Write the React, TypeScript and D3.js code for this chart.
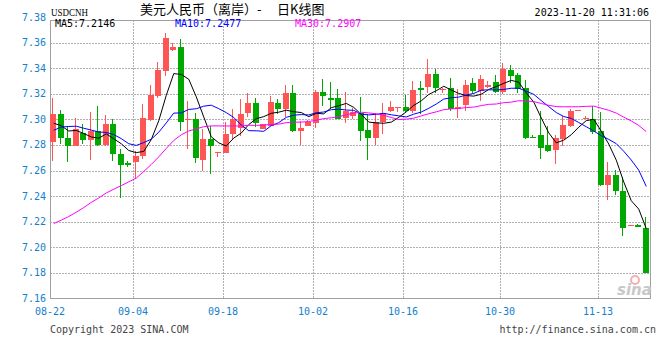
import * as d3 from "d3";
import { useEffect, useRef } from "react";

// 日期 (含部分周六数据)
const dates = [
  "08-22", "08-23", "08-24", "08-25", "08-26", "08-28", "08-29", "08-30", "08-31", "09-01", "09-02",
  "09-04", "09-05", "09-06", "09-07", "09-08", "09-09", "09-11", "09-12", "09-13", "09-14", "09-15", "09-16",
  "09-18", "09-19", "09-20", "09-21", "09-22", "09-23", "09-25", "09-26", "09-27", "09-28", "09-29", "09-30",
  "10-02", "10-03", "10-04", "10-05", "10-06", "10-07", "10-09", "10-10", "10-11", "10-12", "10-13", "10-14",
  "10-16", "10-17", "10-18", "10-19", "10-20", "10-21", "10-22", "10-23", "10-24", "10-25", "10-26", "10-27", "10-28",
  "10-30", "10-31", "11-01", "11-02", "11-03", "11-04", "11-05", "11-06", "11-07", "11-08", "11-09", "11-10", "11-11",
  "11-13", "11-14", "11-15", "11-16", "11-17", "11-18", "11-20",
];

const opens = [
  7.2825, 7.3041, 7.2856, 7.2794, 7.2895, 7.2838, 7.2908, 7.2799, 7.2967, 7.2729, 7.2659,
  7.2669, 7.2711, 7.2997, 7.3184, 7.3379, 7.3543, 7.3569, 7.2995, 7.3003, 7.2685, 7.2846, 7.274,
  7.2737, 7.2885, 7.2929, 7.3049, 7.3127, 7.2924, 7.295, 7.3132, 7.3085, 7.3205, 7.2911, 7.295,
  7.2971, 7.3215, 7.3171, 7.3166, 7.3015, 7.3023, 7.3054, 7.2919, 7.2851, 7.2981, 7.3067, 7.3093,
  7.3099, 7.3067, 7.3244, 7.3257, 7.3353, 7.3229, 7.3244, 7.308, 7.3111, 7.3283, 7.3223, 7.3257, 7.3293,
  7.3215, 7.3384, 7.3345, 7.3249, 7.2864, 7.2877, 7.2799, 7.2763, 7.2846, 7.2945, 7.3064, 7.3004, 7.3002,
  7.2911, 7.2487, 7.2565, 7.244, 7.2166, 7.2172, 7.2152,
];
const highs = [
  7.3166, 7.3072, 7.2947, 7.3015, 7.2968, 7.3057, 7.3103, 7.3037, 7.3002, 7.2767, 7.2677,
  7.2755, 7.3123, 7.327, 7.3452, 7.3678, 7.36, 7.3626, 7.3145, 7.3054, 7.2924, 7.295, 7.2742,
  7.2981, 7.308, 7.3158, 7.321, 7.3167, 7.2968, 7.3184, 7.3158, 7.3267, 7.3267, 7.2989, 7.2997,
  7.3228, 7.3318, 7.3293, 7.3241, 7.3218, 7.3093, 7.3179, 7.3041, 7.3049, 7.3127, 7.3145, 7.3099,
  7.3189, 7.3301, 7.3301, 7.347, 7.3392, 7.3249, 7.3327, 7.3241, 7.3309, 7.3327, 7.3345, 7.3301, 7.3345,
  7.3439, 7.3423, 7.3365, 7.3309, 7.2877, 7.3067, 7.295, 7.2877, 7.3023, 7.308, 7.3072, 7.3023, 7.3105,
  7.3059, 7.2664, 7.2607, 7.2547, 7.2172, 7.218, 7.224,
];
const lows = [
  7.2677, 7.2807, 7.2669, 7.2789, 7.2807, 7.2685, 7.2794, 7.2794, 7.2677, 7.2382, 7.263,
  7.2538, 7.269, 7.299, 7.3171, 7.334, 7.3535, 7.2911, 7.2768, 7.2659, 7.2599, 7.2575, 7.2708,
  7.2735, 7.2846, 7.2872, 7.3019, 7.2937, 7.2924, 7.2945, 7.3041, 7.3019, 7.2903, 7.2799, 7.2945,
  7.2932, 7.3106, 7.308, 7.3002, 7.2975, 7.3007, 7.2833, 7.2685, 7.28, 7.2885, 7.3059, 7.3059,
  7.3059, 7.3054, 7.3041, 7.321, 7.321, 7.321, 7.3067, 7.3011, 7.3067, 7.3209, 7.3145, 7.3249, 7.3205,
  7.3197, 7.3283, 7.321, 7.2846, 7.2851, 7.269, 7.2747, 7.2651, 7.2794, 7.2937, 7.3062, 7.3002, 7.2885,
  7.2478, 7.237, 7.2409, 7.2084, 7.2164, 7.2159, 7.1798,
];
const closes = [
  7.3041, 7.2851, 7.2794, 7.2924, 7.2838, 7.2908, 7.2799, 7.2967, 7.2729, 7.2646, 7.2643,
  7.2716, 7.3014, 7.3192, 7.3384, 7.3634, 7.3569, 7.2981, 7.3005, 7.2695, 7.2846, 7.2794, 7.2742,
  7.2882, 7.3007, 7.3041, 7.3127, 7.2971, 7.2963, 7.3137, 7.3085, 7.3205, 7.2911, 7.2932, 7.2976,
  7.3215, 7.3184, 7.3153, 7.3007, 7.3067, 7.3059, 7.2911, 7.2851, 7.2976, 7.3054, 7.3101, 7.3099,
  7.3067, 7.3228, 7.3231, 7.3353, 7.3244, 7.3241, 7.308, 7.3101, 7.3267, 7.3223, 7.3314, 7.3267, 7.3215,
  7.3392, 7.334, 7.3241, 7.2851, 7.2854, 7.2773, 7.2755, 7.2851, 7.2955, 7.3067, 7.307, 7.301, 7.2903,
  7.2487, 7.2565, 7.2443, 7.2154, 7.217, 7.2159, 7.1798,
];
// 图表之前的收盘价 (用于计算均线)
const priorCloses = [
  7.205, 7.195, 7.19, 7.175, 7.17, 7.175, 7.18, 7.185, 7.18, 7.175, 7.185,
  7.145, 7.155, 7.16, 7.165, 7.17, 7.165, 7.21, 7.22, 7.235,
  7.26, 7.275, 7.29, 7.3, 7.305, 7.295, 7.3, 7.29, 7.296,
];

const tickDates = ["08-22", "09-04", "09-18", "10-02", "10-16", "10-30", "11-13"];
const yTicks = [7.16, 7.18, 7.2, 7.22, 7.24, 7.26, 7.28, 7.3, 7.32, 7.34, 7.36, 7.38];
const maPeriods = [5, 10, 30];
const maLabels = ["MA5:7.2146", "MA10:7.2477", "MA30:7.2907"];
const maColors = ["#000000", "#0000ff", "#ff00ff"];

const UP = "#ff5555";
const DOWN = "#00a800";
const AXIS_TEXT = "#1480cc";
const MONO = "'DejaVu Sans Mono', monospace";
const CJK = "'Noto Sans CJK SC', sans-serif";

const App = () => {
  const chartRef = useRef<SVGSVGElement | null>(null);

  useEffect(() => {
    drawChart();
  }, []);

  const drawChart = () => {
    if (!chartRef.current) return;
    const svg = d3.select(chartRef.current);
    svg.selectAll("*").remove();

    const left = 50;
    const right = 650;
    const top = 20;
    const bottom = 298;

    const xScale = d3.scaleBand().domain(dates).range([left, right]).paddingInner(0.2).paddingOuter(0.1);
    const yScale = d3.scaleLinear().domain([7.16, 7.38]).range([298.3, 17.2]);
    const bw = Math.round(xScale.bandwidth());
    const bx = (d: string) => Math.floor(xScale(d)!);

    // 网格
    svg
      .append("g")
      .selectAll("line")
      .data(yTicks.filter((v) => v > 7.17 && v < 7.37))
      .join("line")
      .attr("x1", left)
      .attr("x2", right)
      .attr("y1", (d) => Math.round(yScale(d)) + 0.5)
      .attr("y2", (d) => Math.round(yScale(d)) + 0.5)
      .attr("stroke", "#b0b0b0")
      .attr("stroke-dasharray", "2,1");

    svg
      .append("g")
      .selectAll("line")
      .data(tickDates.slice(1))
      .join("line")
      .attr("x1", (d) => bx(d) + 0.5)
      .attr("x2", (d) => bx(d) + 0.5)
      .attr("y1", top)
      .attr("y2", bottom)
      .attr("stroke", "#b0b0b0")
      .attr("stroke-dasharray", "2,1");

    // 边框
    svg
      .append("rect")
      .attr("x", left + 0.5)
      .attr("y", top + 0.5)
      .attr("width", right - left)
      .attr("height", bottom - top)
      .attr("fill", "none")
      .attr("stroke", "#a0a0a0");

    // Y轴标签
    svg
      .append("g")
      .selectAll("text")
      .data(yTicks)
      .join("text")
      .attr("x", 46)
      .attr("y", (d) => yScale(d))
      .attr("dy", "0.35em")
      .attr("text-anchor", "end")
      .style("font-family", MONO)
      .style("font-size", "10px")
      .style("fill", AXIS_TEXT)
      .text((d) => d.toFixed(2));

    // X轴标签
    svg
      .append("g")
      .selectAll("text")
      .data(tickDates)
      .join("text")
      .attr("x", (d) => bx(d))
      .attr("y", 315)
      .attr("text-anchor", "middle")
      .style("font-family", MONO)
      .style("font-size", "10px")
      .style("fill", AXIS_TEXT)
      .text((d) => d);

    // K线
    const candles = dates.map((d, i) => ({ d, o: opens[i], h: highs[i], l: lows[i], c: closes[i] }));
    const g = svg.append("g").attr("shape-rendering", "crispEdges");
    g.selectAll("rect.wick")
      .data(candles)
      .join("rect")
      .attr("class", "wick")
      .attr("x", (d) => bx(d.d) + Math.floor(bw / 2) - 1)
      .attr("y", (d) => Math.round(yScale(d.h)))
      .attr("width", 1)
      .attr("height", (d) => Math.max(1, Math.round(yScale(d.l)) - Math.round(yScale(d.h))))
      .attr("fill", (d) => (d.c >= d.o ? UP : DOWN));
    g.selectAll("rect.body")
      .data(candles)
      .join("rect")
      .attr("class", "body")
      .attr("x", (d) => bx(d.d))
      .attr("y", (d) => Math.round(yScale(Math.max(d.o, d.c))))
      .attr("width", bw)
      .attr("height", (d) =>
        Math.max(1, Math.round(yScale(Math.min(d.o, d.c))) - Math.round(yScale(Math.max(d.o, d.c))))
      )
      .attr("fill", (d) => (d.c >= d.o ? UP : DOWN));

    // 均线
    const all = priorCloses.concat(closes);
    const off = priorCloses.length;
    maPeriods.forEach((n, k) => {
      const ma = dates.map((d, i) => ({ d, v: d3.mean(all.slice(off + i - n + 1, off + i + 1))! }));
      const line = d3
        .line<{ d: string; v: number }>()
        .x((p) => xScale(p.d)! + xScale.bandwidth() / 2)
        .y((p) => yScale(p.v));
      svg
        .append("path")
        .datum(ma)
        .attr("d", line)
        .attr("fill", "none")
        .attr("stroke", maColors[k])
        .attr("stroke-width", 1);
    });

    // 图例
    svg
      .append("g")
      .selectAll("text")
      .data(maLabels)
      .join("text")
      .attr("x", (d, i) => [55, 175, 295][i])
      .attr("y", 27)
      .style("font-family", MONO)
      .style("font-size", "10px")
      .style("fill", (d, i) => maColors[i])
      .text((d) => d);

    // 标题
    svg
      .append("text")
      .attr("x", 51)
      .attr("y", 16)
      .attr("textLength", 37)
      .attr("lengthAdjust", "spacingAndGlyphs")
      .style("font-family", "'Liberation Serif', serif")
      .style("font-size", "10.5px")
      .style("fill", "#000")
      .text("USDCNH");
    const titleParts = [
      { x: 140, t: "美元人民币（离岸）" },
      { x: 257, t: "-" },
      { x: 277, t: "日K线图" },
    ];
    svg
      .append("g")
      .selectAll("text")
      .data(titleParts)
      .join("text")
      .attr("x", (d) => d.x)
      .attr("y", 14)
      .style("font-family", CJK)
      .style("font-size", "13px")
      .style("fill", "#000")
      .text((d) => d.t);
    svg
      .append("text")
      .attr("x", 649)
      .attr("y", 15.5)
      .attr("text-anchor", "end")
      .style("font-family", MONO)
      .style("font-size", "10px")
      .style("fill", "#000")
      .text("2023-11-20 11:31:06");

    // 页脚
    svg
      .append("text")
      .attr("x", 50)
      .attr("y", 333)
      .style("font-family", MONO)
      .style("font-size", "10px")
      .style("fill", "#444")
      .text("Copyright 2023 SINA.COM");
    svg
      .append("text")
      .attr("x", 656)
      .attr("y", 333)
      .attr("text-anchor", "end")
      .style("font-family", MONO)
      .style("font-size", "10px")
      .style("fill", "#444")
      .text("http://finance.sina.com.cn");

    // sina 水印
    svg
      .append("circle")
      .attr("cx", 635)
      .attr("cy", 280)
      .attr("r", 4)
      .attr("fill", "none")
      .attr("stroke", "#f2b0b0")
      .attr("stroke-width", 2);
    svg
      .append("text")
      .attr("x", 617)
      .attr("y", 295)
      .style("font-family", "'DejaVu Sans', sans-serif")
      .style("font-size", "15px")
      .style("font-weight", "bold")
      .style("font-style", "italic")
      .style("fill", "#c8c8c8")
      .text("sina");
  };

  return (
    <svg
      ref={chartRef}
      width={660}
      height={360}
      style={{ position: "absolute", left: 0, top: 0, background: "#fff" }}
    />
  );
};

export default App;
